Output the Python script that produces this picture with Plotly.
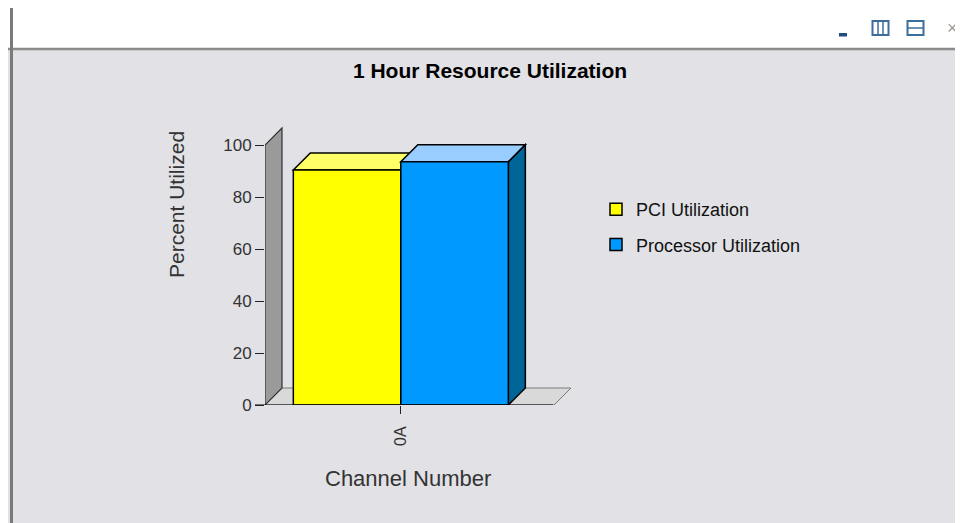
import plotly.graph_objects as go

# ---------------- data ----------------
categories = ["0A"]
series_names = ["PCI Utilization", "Processor Utilization"]
pci_values = [90.4]
processor_values = [93.6]
y_tick_values = [0, 20, 40, 60, 80, 100]

chart_title = "1 Hour Resource Utilization"
y_title = "Percent Utilized"
x_title = "Channel Number"

# ---------------- geometry / style ----------------
OFF = 8                      # page body margin in the browser
W, H = 963 - OFF, 523 - OFF
L, R, T, B = 257, 390, 118, 118
PW = W - L - R
PH = H - T - B
PX_PER_Y = 2.6
Y_MAX = PH / PX_PER_Y
CAT_PX = 289
X_LO = -0.47
X_HI = X_LO + PW / CAT_PX
DEPTH = 17
DX = DEPTH / CAT_PX
DY = DEPTH / PX_PER_Y
BARGAP = 0.256
BAR_W = (1 - BARGAP) / 2

FONT = "Liberation Sans, Arial, Helvetica, sans-serif"
BG = "#e1e1e6"

front_colors = ["#ffff00", "#0099ff"]
top_colors = ["#ffff66", "#99ccff"]
side_colors = ["#cccc00", "#006699"]

# reference-screen pixel -> paper coordinates
def px_x(px):
    return (px - OFF - L) / PW


def px_y(py):
    return (H - B - (py - OFF)) / PH


fig = go.Figure()
series = [pci_values, processor_values]
for i, (name, vals) in enumerate(zip(series_names, series)):
    fig.add_trace(go.Bar(
        x=categories, y=vals, name=name, legendgroup=name,
        marker=dict(color=front_colors[i], line=dict(color="#000000", width=1.5)),
        hoverinfo="name+y",
    ))

shapes = []
# floor
x_front_end = X_LO + 1.0
shapes.append(dict(type="path", xref="x", yref="y", layer="below",
                   path=f"M{X_LO},0 L{x_front_end},0 L{x_front_end+DX},{DY} L{X_LO+DX},{DY} Z",
                   fillcolor="#d9d9d9", line=dict(color="#7a7a7a", width=1)))
# wall
shapes.append(dict(type="path", xref="x", yref="y", layer="below",
                   path=f"M{X_LO},0 L{X_LO},100 L{X_LO+DX},{100+DY} L{X_LO+DX},{DY} Z",
                   fillcolor="#9a9a9a", line=dict(color="#333333", width=1.2)))

# 3D faces of bars
for i, vals in enumerate(series):
    for j, v in enumerate(vals):
        x0 = j - (1 - BARGAP) / 2 + i * BAR_W
        x1 = x0 + BAR_W
        shapes.append(dict(type="path", xref="x", yref="y", layer="below",
                           path=f"M{x1},0 L{x1},{v} L{x1+DX},{v+DY} L{x1+DX},{DY} Z",
                           fillcolor=side_colors[i], line=dict(color="#000000", width=1.5)))
        shapes.append(dict(type="path", xref="x", yref="y", layer="below",
                           path=f"M{x0},{v} L{x1},{v} L{x1+DX},{v+DY} L{x0+DX},{v+DY} Z",
                           fillcolor=top_colors[i], line=dict(color="#000000", width=1.5)))

# x axis baseline
shapes.append(dict(type="line", xref="paper", yref="y", layer="above",
                   x0=px_x(255), x1=px_x(553), y0=0, y1=0,
                   line=dict(color="#000000", width=1.2)))

# window chrome
shapes += [
    dict(type="rect", xref="paper", yref="paper", x0=px_x(0), x1=px_x(963), y0=px_y(7.5), y1=px_y(48),
         fillcolor="#ffffff", line=dict(width=0), layer="below"),
    dict(type="line", xref="paper", yref="paper", x0=px_x(0), x1=px_x(963), y0=px_y(49), y1=px_y(49),
         line=dict(color="#8c8c8c", width=2.5)),
    dict(type="line", xref="paper", yref="paper", x0=px_x(11.5), x1=px_x(11.5), y0=px_y(7), y1=px_y(523),
         line=dict(color="#7a7a7a", width=3)),
    # icons
    dict(type="rect", xref="paper", yref="paper", x0=px_x(839), x1=px_x(847), y0=px_y(33), y1=px_y(36.5),
         fillcolor="#1f4f80", line=dict(width=0)),
    dict(type="rect", xref="paper", yref="paper", x0=px_x(872.5), x1=px_x(888.5), y0=px_y(21), y1=px_y(35),
         fillcolor="rgba(0,0,0,0)", line=dict(color="#3d6d9c", width=2)),
    dict(type="line", xref="paper", yref="paper", x0=px_x(878), x1=px_x(878), y0=px_y(21), y1=px_y(35),
         line=dict(color="#3d6d9c", width=1.5)),
    dict(type="line", xref="paper", yref="paper", x0=px_x(883), x1=px_x(883), y0=px_y(21), y1=px_y(35),
         line=dict(color="#3d6d9c", width=1.5)),
    dict(type="rect", xref="paper", yref="paper", x0=px_x(907.5), x1=px_x(923.5), y0=px_y(21), y1=px_y(35),
         fillcolor="rgba(0,0,0,0)", line=dict(color="#3d6d9c", width=2)),
    dict(type="line", xref="paper", yref="paper", x0=px_x(907.5), x1=px_x(923.5), y0=px_y(28), y1=px_y(28),
         line=dict(color="#3d6d9c", width=1.5)),
]

annotations = [
    dict(text=y_title, xref="paper", yref="paper", x=px_x(176), y=px_y(205),
         textangle=-90, showarrow=False, font=dict(family=FONT, size=21, color="#333333"),
         xanchor="center", yanchor="middle"),
    dict(text=x_title, xref="paper", yref="paper", x=px_x(408), y=px_y(478),
         showarrow=False, font=dict(family=FONT, size=22, color="#333333"),
         xanchor="center", yanchor="middle"),
    dict(text="×", xref="paper", yref="paper", x=px_x(952), y=px_y(28),
         showarrow=False, font=dict(family=FONT, size=18, color="#9a9a9a"),
         xanchor="center", yanchor="middle"),
]

fig.update_layout(
    width=W, height=H,
    margin=dict(l=L, r=R, t=T, b=B, pad=0),
    paper_bgcolor=BG, plot_bgcolor="rgba(0,0,0,0)",
    barmode="group", bargap=BARGAP, bargroupgap=0,
    title=dict(text=f"<b>{chart_title}</b>", xref="container", yref="container",
               x=(490 - OFF) / W, y=1 - (71 - OFF) / H, xanchor="center", yanchor="middle",
               font=dict(family=FONT, size=21, color="#000000")),
    font=dict(family=FONT, color="#333333"),
    xaxis=dict(type="category", range=[X_LO, X_HI], showgrid=False, zeroline=False,
               showline=False, ticks="outside", ticklen=8, tickcolor="#222222", tickwidth=1.2,
               tickangle=-90, ticklabelstandoff=6,
               tickfont=dict(family=FONT, size=16, color="#333333"), fixedrange=True),
    yaxis=dict(range=[0, Y_MAX], tickvals=y_tick_values, showgrid=False, zeroline=False,
               showline=False, ticks="outside", ticklen=9, tickcolor="#222222", tickwidth=1.2,
               tickfont=dict(family=FONT, size=17, color="#333333"), fixedrange=True),
    legend=dict(x=px_x(596), y=px_y(191), xanchor="left", yanchor="top",
                bgcolor="rgba(0,0,0,0)", font=dict(family=FONT, size=18, color="#111111"),
                traceorder="grouped", tracegroupgap=9),
    shapes=shapes,
    annotations=annotations,
    showlegend=True,
)

fig.write_html("out.html")
